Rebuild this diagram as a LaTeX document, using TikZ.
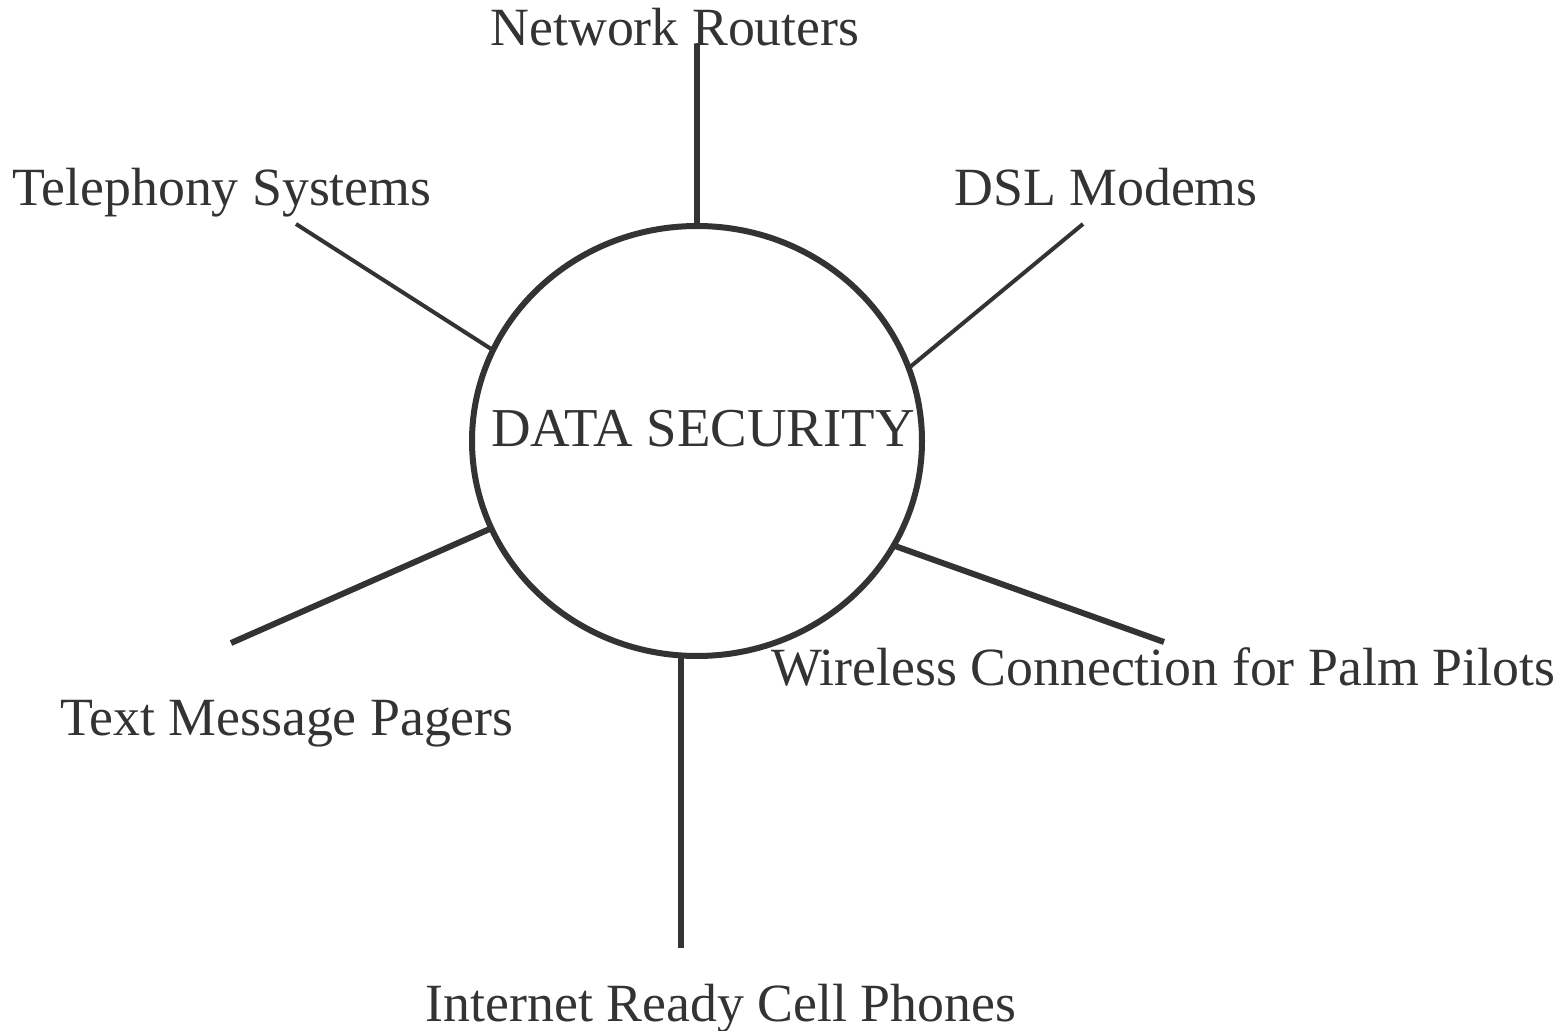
\documentclass[tikz,border=0pt]{standalone}
\usepackage{fontspec}
\setmainfont{Liberation Serif}
\usetikzlibrary{shapes.geometric}
\definecolor{ink}{HTML}{333333}
\tikzset{
  lbl/.style={text=ink, anchor=base, inner sep=0pt, font=\fontsize{26.9pt}{30pt}\selectfont},
  thick line/.style={draw=ink, line width=3pt},
  thin line/.style={draw=ink, line width=2pt},
  hub/.style={draw=ink, line width=3pt, ellipse, inner sep=0pt, outer sep=0pt, minimum width=225pt, minimum height=215pt}
}
\begin{document}
\begin{tikzpicture}[x=0.5pt, y=-0.5pt]
\useasboundingbox (0,0) rectangle (1564,1031);
\node[hub] (c) at (697,441) {};
\node[lbl, font=\fontsize{27.4pt}{30pt}\selectfont] (title) at (703,447) {DATA SECURITY};
\node[lbl] (nr) at (675,46) {Network Routers};
\node[lbl] (ts) at (222,206) {Telephony Systems};
\node[lbl] (dsl) at (1106,206) {DSL Modems};
\node[lbl] (wc) at (1163,686) {Wireless Connection for Palm Pilots};
\node[lbl] (tm) at (287,735) {Text Message Pagers};
\node[lbl] (ic) at (721,1021) {Internet Ready Cell Phones};
\coordinate (enr) at (697,45);
\coordinate (ets) at (296,224);
\coordinate (edsl) at (1083,224);
\coordinate (etm) at (231,643);
\coordinate (ewc) at (1164,642);
\coordinate (eic) at (681,948);
\draw[thick line] (enr) -- (c.90);
\draw[thin line] (ets) -- (c.156.7);
\draw[thin line] (edsl) -- (c.19);
\draw[thick line] (etm) -- (c.203.3);
\draw[thick line] (ewc) -- (c.-28.4);
\draw[thick line] (eic) -- (eic |- c.265.8);
\end{tikzpicture}
\end{document}
